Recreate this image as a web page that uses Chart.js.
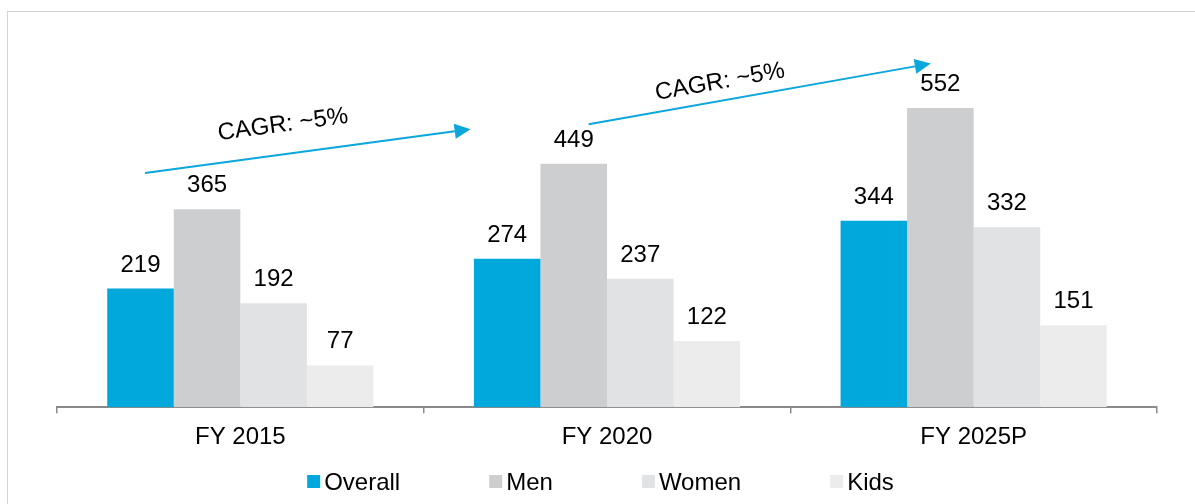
<!DOCTYPE html>
<html>
<head>
<meta charset="utf-8">
<script src="https://cdn.jsdelivr.net/npm/chart.js@4.4.0/dist/chart.umd.min.js"></script>
<style>
  html, body { margin: 0; padding: 0; background: #fff; }
  #wrap { position: relative; width: 1195px; height: 504px; overflow: hidden; }
  #frame { position: absolute; left: 7px; top: 11px; width: 1200px; height: 500px;
           border-left: 1px solid #d4d4d4; border-top: 1px solid #d4d4d4; }
  canvas { position: absolute; left: 0; top: 0; }
</style>
</head>
<body>
<div id="wrap">
  <div id="frame"></div>
  <canvas id="marketChart" width="1195" height="504"></canvas>
</div>
<script>
// data
const years = ['FY 2015', 'FY 2020', 'FY 2025P'];
const overall = [219, 274, 344];
const men = [365, 449, 552];
const women = [192, 237, 332];
const kids = [77, 122, 151];
const seriesNames = ['Overall', 'Men', 'Women', 'Kids'];
const cagrText = ['CAGR: ~5%', 'CAGR: ~5%'];

const seriesColors = ['#00A8DB', '#CDCED0', '#E1E2E4', '#ECECEC'];
const arrowColor = '#0AA6DC';
const font = "'Liberation Sans', Arial, sans-serif";

// arrows placed in scale units (category index, value)
const arrows = [
  { from: [-0.26, 432], to: [0.628, 513], label: [0.116, 521] },
  { from: [0.95, 522], to: [1.883, 634], label: [1.308, 600] }
];

const valueLabels = {
  id: 'valueLabels',
  afterDatasetsDraw(chart) {
    const ctx = chart.ctx;
    ctx.save();
    ctx.font = '24px ' + font;
    ctx.fillStyle = '#000';
    ctx.textAlign = 'center';
    ctx.textBaseline = 'alphabetic';
    chart.data.datasets.forEach((ds, i) => {
      chart.getDatasetMeta(i).data.forEach((bar, j) => {
        ctx.fillText(ds.data[j], bar.x, bar.y - 17);
      });
    });
    ctx.restore();
  }
};

const cagrArrows = {
  id: 'cagrArrows',
  afterDraw(chart) {
    const ctx = chart.ctx;
    const xs = chart.scales.x, ys = chart.scales.y;
    ctx.save();
    arrows.forEach((a, i) => {
      const x1 = xs.getPixelForValue(a.from[0]), y1 = ys.getPixelForValue(a.from[1]);
      const x2 = xs.getPixelForValue(a.to[0]), y2 = ys.getPixelForValue(a.to[1]);
      const ang = Math.atan2(y2 - y1, x2 - x1);
      const head = 16, half = 7.5;
      const bx = x2 - head * Math.cos(ang), by = y2 - head * Math.sin(ang);
      ctx.strokeStyle = arrowColor;
      ctx.fillStyle = arrowColor;
      ctx.lineWidth = 2;
      ctx.beginPath();
      ctx.moveTo(x1, y1);
      ctx.lineTo(bx, by);
      ctx.stroke();
      ctx.beginPath();
      ctx.moveTo(x2, y2);
      ctx.lineTo(bx + half * Math.sin(ang), by - half * Math.cos(ang));
      ctx.lineTo(bx - half * Math.sin(ang), by + half * Math.cos(ang));
      ctx.closePath();
      ctx.fill();

      const tx = xs.getPixelForValue(a.label[0]), ty = ys.getPixelForValue(a.label[1]);
      ctx.save();
      ctx.translate(tx, ty);
      ctx.rotate(ang);
      ctx.font = '24px ' + font;
      ctx.fillStyle = '#000';
      ctx.textAlign = 'center';
      ctx.textBaseline = 'middle';
      ctx.fillText(cagrText[i], 0, 0);
      ctx.restore();
    });
    ctx.restore();
  }
};

const bottomLegend = {
  id: 'bottomLegend',
  afterDraw(chart) {
    const ctx = chart.ctx;
    ctx.save();
    ctx.font = '24px ' + font;
    const box = 13, gapText = 4, gapItem = 89;
    const widths = seriesNames.map(n => box + gapText + ctx.measureText(n).width);
    const total = widths.reduce((s, w) => s + w, 0) + gapItem * (widths.length - 1);
    let x = 600.5 - total / 2;
    const cy = 481.5;
    seriesNames.forEach((n, i) => {
      ctx.fillStyle = seriesColors[i];
      ctx.fillRect(x, cy - box / 2, box, box);
      ctx.fillStyle = '#000';
      ctx.textBaseline = 'alphabetic';
      ctx.fillText(n, x + box + gapText, 489.5);
      x += widths[i] + gapItem;
    });
    ctx.restore();
  }
};

const seriesData = [overall, men, women, kids];
const ctx = document.getElementById('marketChart').getContext('2d');
new Chart(ctx, {
  type: 'bar',
  data: {
    labels: years,
    datasets: seriesNames.map((name, i) => ({
      label: name,
      data: seriesData[i],
      backgroundColor: seriesColors[i],
      borderWidth: 0,
      categoryPercentage: 0.726,
      barPercentage: 1
    }))
  },
  options: {
    responsive: false,
    animation: false,
    layout: { padding: { left: 57, right: 38, top: 82, bottom: 42 } },
    plugins: {
      legend: { display: false },
      tooltip: { enabled: false }
    },
    scales: {
      x: {
        grid: { drawOnChartArea: false, drawTicks: true, tickLength: 6, color: '#8a8a8a', lineWidth: 1.5 },
        border: { color: '#8a8a8a', width: 2 },
        ticks: { color: '#000', font: { family: font, size: 24 }, padding: 10 }
      },
      y: { display: false, min: 0, max: 600 }
    }
  },
  plugins: [valueLabels, cagrArrows, bottomLegend]
});
</script>
</body>
</html>
